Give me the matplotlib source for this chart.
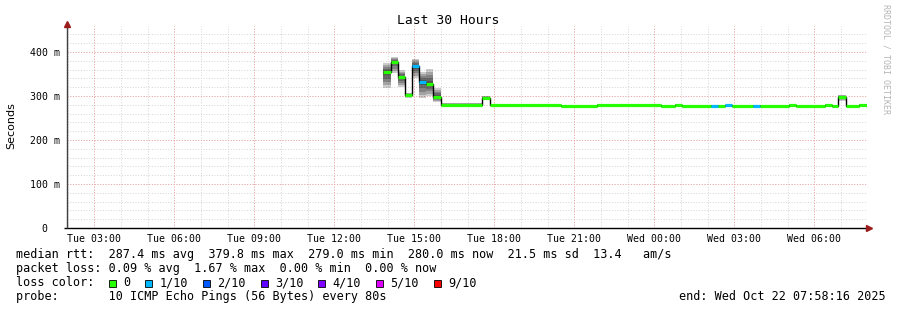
import matplotlib
matplotlib.use("Agg")
import matplotlib.pyplot as plt
from matplotlib.patches import Rectangle
from matplotlib.ticker import FixedLocator, FuncFormatter
import numpy as np

# ---------------- data ----------------
# bin edges in hours since Tue 00:00 (window: Tue 01:58:16 -> Wed 07:58:16)
t_start = 1.9711
t_end = 31.9711
t_edges = [13.82, 14.12, 14.38, 14.65, 14.91, 15.17, 15.43, 15.70, 16.00, 17.53,
           17.83, 20.50, 21.85, 24.25, 24.77, 25.03, 26.12, 26.38, 26.65, 26.91,
           27.70, 27.96, 29.05, 29.31, 30.40, 30.66, 30.88, 31.18, 31.67, 31.97]
median_ms = [354, 378, 342, 302, 368, 332, 328, 298, 280, 296,
             280, 278, 280, 278, 280, 278, 278, 278, 279, 278,
             278, 278, 280, 278, 280, 278, 298, 278, 280]
loss_idx = [0, 0, 0, 0, 1, 1, 0, 0, 0, 0,
            0, 0, 0, 0, 0, 0, 1, 0, 1, 0,
            1, 0, 0, 0, 0, 0, 0, 0, 0]
smoke_lo = [318, 352, 320, 296, 340, 295, 300, 286, 279, 292,
            279, 277, 279, 277, 279, 277, 277, 277, 278, 277,
            277, 277, 279, 277, 279, 277, 288, 277, 279]
smoke_hi = [375, 389, 359, 307, 385, 355, 361, 318, 284, 300,
            281, 279, 281, 279, 281, 279, 279, 279, 280, 279,
            279, 279, 281, 279, 281, 279, 302, 279, 281]

loss_labels = ["0", "1/10", "2/10", "3/10", "4/10", "5/10", "9/10"]
loss_colors = ["#26ff00", "#00b8ff", "#0059ff", "#5e00ff", "#7e00ff", "#dd00ff", "#ff0000"]

x_major = [3, 6, 9, 12, 15, 18, 21, 24, 27, 30]
y_major = [0, 100, 200, 300, 400]

title = "Last 30 Hours"
ylabel = "Seconds"
legend_lines = [
    "median rtt:  287.4 ms avg  379.8 ms max  279.0 ms min  280.0 ms now  21.5 ms sd  13.4   am/s",
    "packet loss: 0.09 % avg  1.67 % max  0.00 % min  0.00 % now",
    "loss color:",
    "probe:       10 ICMP Echo Pings (56 Bytes) every 80s",
]
end_text = "end: Wed Oct 22 07:58:16 2025"
watermark = "RRDTOOL / TOBI OETIKER"

# ---------------- figure ----------------
W, H = 897, 310
fig = plt.figure(figsize=(W / 100, H / 100), dpi=100)
fig.patch.set_facecolor("white")
ax = fig.add_axes([67 / W, 82 / H, 800 / W, 202 / H])
ax.set_xlim(t_start, t_end)
ax.set_ylim(0, 459)
for s in ax.spines.values():
    s.set_visible(False)

mono = "DejaVu Sans Mono"

# grid
red_grid = "#f4a4a4"
grey_grid = "#d4d4d4"
dots = (0, (1, 1.8))
for h in np.arange(2, 32, 1):
    ax.axvline(h, color=grey_grid, lw=0.7, ls=dots, zorder=0)
for v in np.arange(20, 459, 20):
    ax.axhline(v, color=grey_grid, lw=0.7, ls=dots, zorder=0)
for h in x_major:
    ax.axvline(h, color=red_grid, lw=0.7, ls=dots, zorder=0.5)
for v in y_major[1:]:
    ax.axhline(v, color=red_grid, lw=0.7, ls=dots, zorder=0.5)

# smoke (graded grey bands)
edges = np.array(t_edges)
med = np.array(median_ms, float)
lo = np.array(smoke_lo, float)
hi = np.array(smoke_hi, float)
nlev = 5
for k in range(nlev):
    f = k / nlev
    top = hi - (hi - med) * f
    bot = lo + (med - lo) * f
    ax.stairs(top, edges, baseline=bot, fill=True, color="black", alpha=0.2, lw=0, zorder=2)

# median: black steps + coloured segments
ax.stairs(med, edges, baseline=None, color="black", lw=1.0, zorder=3)
seg_cols = [loss_colors[i] for i in loss_idx]
lc = ax.hlines(med, edges[:-1], edges[1:], colors=seg_cols, lw=2.3, zorder=4)
lc.set_capstyle("butt")

# ticks
ax.xaxis.set_major_locator(FixedLocator(x_major))
ax.xaxis.set_major_formatter(FuncFormatter(
    lambda h, p: f"{'Tue' if h < 24 else 'Wed'} {int(h % 24):02d}:00"))
ax.yaxis.set_major_locator(FixedLocator(y_major))
ax.yaxis.set_major_formatter(FuncFormatter(lambda v, p: "0  " if v == 0 else f"{int(v)} m"))
ax.tick_params(axis="both", length=0, labelsize=7.1, colors="black")
ax.tick_params(axis="x", pad=4)
ax.tick_params(axis="y", pad=5)
for lab in ax.get_xticklabels() + ax.get_yticklabels():
    lab.set_family(mono)

# axes lines with arrows
ax.plot([-0.004, 1.003], [0, 0], color="black", lw=1.0, transform=ax.transAxes,
        clip_on=False, zorder=5, solid_capstyle="butt")
ax.plot([0, 0], [0, 1.01], color="#404040", lw=1.0, transform=ax.transAxes,
        clip_on=False, zorder=5, solid_capstyle="butt")
ax.plot([1.003], [0], marker=">", ms=4.5, color="#9b1c1c", mec="#9b1c1c",
        transform=ax.transAxes, clip_on=False, zorder=6)
ax.plot([0], [1.01], marker="^", ms=4.5, color="#9b1c1c", mec="#9b1c1c",
        transform=ax.transAxes, clip_on=False, zorder=6)

# texts
fig.text(448 / W, 1 - 20 / H, title, family=mono, fontsize=9.4, ha="center", va="center")
fig.text(11 / W, 1 - 126 / H, ylabel, family="DejaVu Sans", fontsize=8, rotation=90,
         ha="center", va="center")
fig.text(886 / W, 1 - 4 / H, watermark, family=mono, fontsize=5.95, rotation=270,
         ha="center", va="top", color="#b4b4b4")

ys = [254.7, 268.3, 282.7, 296.7]
for line, y in zip(legend_lines, ys):
    fig.text(16 / W, 1 - y / H, line, family=mono, fontsize=8.5, ha="left", va="center")
fig.text(886 / W, 1 - ys[3] / H, end_text, family=mono, fontsize=8.5, ha="right", va="center")

cw = 7.11
sx = 108.7
for lab, col in zip(loss_labels, loss_colors):
    fig.add_artist(Rectangle((sx / W, 1 - 286.5 / H), 7 / W, 7 / H, transform=fig.transFigure,
                             facecolor=col, edgecolor="black", lw=0.6))
    lx = sx + 14.3
    fig.text(lx / W, 1 - ys[2] / H, lab, family=mono, fontsize=8.5, ha="left", va="center")
    sx = lx + len(lab) * cw + 15

fig.savefig("out.png", dpi=100, facecolor="white")
